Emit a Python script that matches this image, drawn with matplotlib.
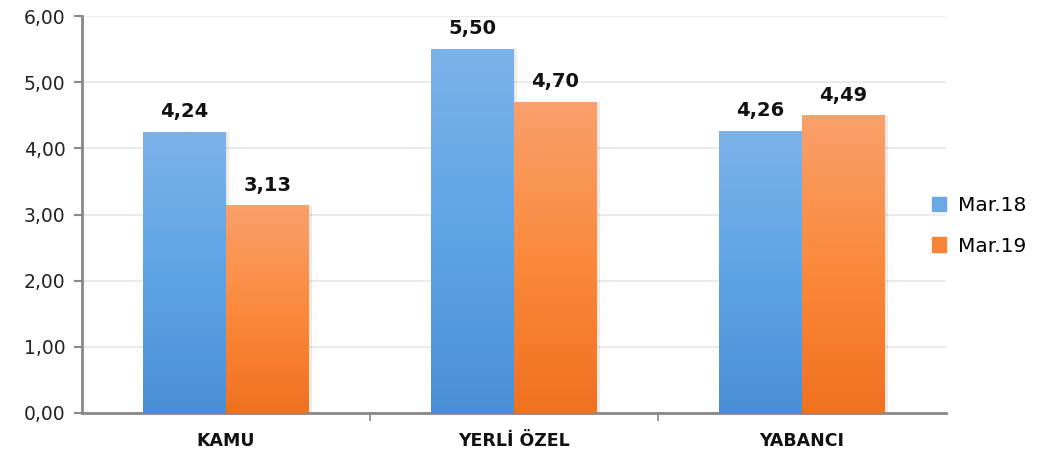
import numpy as np
import matplotlib.pyplot as plt
from matplotlib.colors import LinearSegmentedColormap
from matplotlib.patches import Rectangle

categories = ['KAMU', 'YERLİ ÖZEL', 'YABANCI']
mar18 = [4.24, 5.50, 4.26]
mar19 = [3.13, 4.70, 4.49]
series_names = ['Mar.18', 'Mar.19']

blue_cmap = LinearSegmentedColormap.from_list('blue', ['#4a8fd5', '#5ea5e6', '#7cb2e8'])
orange_cmap = LinearSegmentedColormap.from_list('orange', ['#f07120', '#fb8a3c', '#f9a06c'])

fig = plt.figure(figsize=(10.51, 4.62), dpi=100)
ax = fig.add_axes([82 / 1051, 1 - 413 / 462, (946 - 82) / 1051, (413 - 16) / 462])

width = 0.288
x = np.arange(len(categories))
grad = np.linspace(0, 1, 256).reshape(-1, 1)


def gradient_bars(xs, vals, cmap, offset):
    for xi, v in zip(xs, vals):
        x0 = xi + offset - width / 2
        # soft shadow on the right edge
        ax.add_patch(Rectangle((x0 + 0.012, 0), width, v, color='#000000', alpha=0.08,
                               lw=0, zorder=2))
        ax.imshow(grad, cmap=cmap, origin='lower', aspect='auto',
                  extent=[x0, x0 + width, 0, v], zorder=3)
        ax.text(xi + offset, v + 0.17, f'{v:.2f}'.replace('.', ','), ha='center', va='bottom',
                fontsize=14, fontweight='bold', color='#111111', zorder=4)


gradient_bars(x, mar18, blue_cmap, -width / 2)
gradient_bars(x, mar19, orange_cmap, width / 2)

ax.set_xlim(-0.5, 2.5)
ax.set_ylim(0, 6)
ax.set_yticks(np.arange(0, 7, 1))
ax.set_yticklabels([f'{t:.2f}'.replace('.', ',') for t in range(7)], fontsize=13.5, color='#222222')
ax.set_xticks(x)
ax.set_xticklabels(categories, fontsize=12.5, fontweight='bold', color='#111111')
ax.tick_params(axis='x', length=0, pad=14)
ax.set_xticks([0.5, 1.5], minor=True)
ax.tick_params(axis='x', which='minor', length=6, width=1.2, color='#888888')
ax.tick_params(axis='y', length=6, width=1.5, color='#888888', pad=6)

ax.grid(axis='y', color='#ebebeb', lw=1.5, zorder=0)
ax.set_axisbelow(True)
for s in ['top', 'right']:
    ax.spines[s].set_visible(False)
ax.spines['left'].set_color('#888888')
ax.spines['left'].set_linewidth(2)
ax.spines['bottom'].set_color('#888888')
ax.spines['bottom'].set_linewidth(2)

handles = [Rectangle((0, 0), 1, 1, color='#6aa8e6'), Rectangle((0, 0), 1, 1, color='#f8843a')]
fig.legend(handles, series_names, loc='center left', bbox_to_anchor=(914 / 1051, 1 - 226 / 462),
           frameon=False, fontsize=14.5, handlelength=0.7, handleheight=0.7,
           handletextpad=0.6, labelspacing=1.05)

fig.savefig('out.png', dpi=100)
